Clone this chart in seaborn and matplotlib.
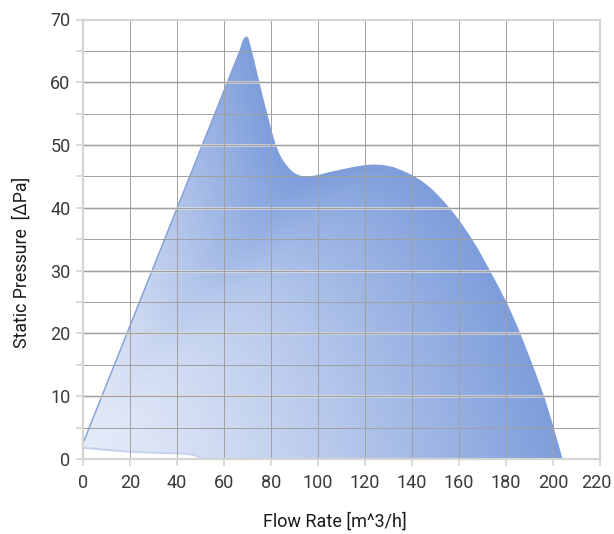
import numpy as np
import pandas as pd
import matplotlib
matplotlib.use("Agg")
import matplotlib.pyplot as plt
import matplotlib.transforms as mtransforms
from matplotlib.patches import Polygon
import seaborn as sns

# Fan characteristic at maximum speed (outer envelope)
flow_max = [0.0, 67.0, 68.0, 68.8, 69.5, 70.1, 70.6, 71.2, 72.5, 74.0, 75.5,
            77.0, 78.5, 80.0, 81.5, 83.0, 84.5, 86.0, 88.0, 90.0, 92.5, 95.0,
            98.0, 101.0, 105.0, 110.0, 115.0, 120.0, 124.0, 128.0, 132.0,
            136.0, 140.0, 144.0, 148.0, 152.0, 156.0, 160.0, 164.0, 168.0,
            172.0, 176.0, 180.0, 184.0, 188.0, 192.0, 196.0, 200.0, 203.8]
pressure_max = [2.5, 65.2, 66.4, 67.0, 67.2, 67.0, 66.4, 65.5, 63.6, 61.2, 58.9,
                56.6, 54.4, 52.2, 50.3, 48.8, 47.7, 46.9, 46.0, 45.4, 45.0, 44.9,
                45.0, 45.2, 45.6, 46.0, 46.4, 46.7, 46.8, 46.7, 46.4,
                45.8, 45.1, 44.2, 43.0, 41.5, 39.8, 37.9, 35.7, 33.3,
                30.6, 27.8, 24.9, 21.6, 17.9, 14.0, 9.9, 5.0, 0.0]

# Fan characteristic at minimum speed
flow_min = [0.0, 10.0, 20.0, 30.0, 40.0, 45.0, 48.0, 50.0, 52.0]
pressure_min = [1.8, 1.45, 1.15, 1.0, 0.9, 0.8, 0.55, 0.2, 0.0]

x_ticks = [0, 20, 40, 60, 80, 100, 120, 140, 160, 180, 200, 220]
y_ticks = [0, 10, 20, 30, 40, 50, 60, 70]
x_label = "Flow Rate [m^3/h]"
y_label = "Static Pressure  [ΔPa]"

sns.set_theme(style="white")
plt.rcParams["font.family"] = ["Roboto", "DejaVu Sans"]

W, H = 614, 534
fig = plt.figure(figsize=(W / 100, H / 100), dpi=100)
ax = fig.add_axes([83 / W, 75 / H, 517 / W, 439.5 / H])
ax.set_xlim(0, 220)
ax.set_ylim(0, 70)

# Operating region: outer curve, x-axis, then minimum-speed curve back
poly_x = flow_max + flow_min[::-1]
poly_y = pressure_max + pressure_min[::-1]
region = Polygon(np.column_stack([poly_x, poly_y]), closed=True,
                 facecolor="none", edgecolor="none", transform=ax.transData)
ax.add_patch(region)

# Shade by relative position between the start point and the outer curve
fx = np.asarray(flow_max)
fy = np.asarray(pressure_max)
ox, oy = fx[0], fy[0]
ipk = int(np.argmax(fy))
ang = np.arctan2(fy[ipk - 2:] - oy, fx[ipk - 2:] - ox)
rad = np.hypot(fy[ipk - 2:] - oy, fx[ipk - 2:] - ox)
ang = np.minimum.accumulate(ang)
order = np.argsort(ang)
ang_s, rad_s = ang[order], rad[order]

gx = np.linspace(0, 220, 1320)
gy = np.linspace(0, 70, 840)
GX, GY = np.meshgrid(gx, gy)
pa = np.arctan2(GY - oy, GX - ox)
pr = np.hypot(GY - oy, GX - ox)
r_out = np.interp(pa, ang_s, rad_s, left=rad_s[0], right=rad_s[-1])
t = np.clip(pr / r_out, 0, 1) ** 1.3
light = np.array([228, 234, 248]) / 255
dark = np.array([125, 157, 219]) / 255
rgb = light[None, None, :] + (dark - light)[None, None, :] * t[..., None]
im = ax.imshow(rgb, extent=(0, 220, 0, 70), origin="lower", aspect="auto",
               interpolation="bilinear", zorder=1)
im.set_clip_path(region)

# Curve outlines
curves = pd.DataFrame({"flow": flow_max, "pressure": pressure_max})
sns.lineplot(data=curves, x="flow", y="pressure", sort=False, estimator=None,
             color="#7f9edb", lw=1.0, ax=ax, zorder=2)
low = pd.DataFrame({"flow": flow_min, "pressure": pressure_min})
sns.lineplot(data=low, x="flow", y="pressure", sort=False, estimator=None,
             color="#c6d2ef", lw=1.5, ax=ax, zorder=2)

# Grid
for yv in y_ticks[1:-1]:
    ax.axhline(yv, color="#dadada", lw=1.8, zorder=3)
for yv in np.arange(5, 70, 5):
    ax.axhline(yv, color="#a0a0a0", lw=0.7, zorder=3.1)
for xv in x_ticks[1:-1]:
    ax.axvline(xv, color="#a0a0a0", lw=0.7, zorder=3.1)

for side in ["left", "bottom", "top", "right"]:
    ax.spines[side].set_visible(True)
    ax.spines[side].set_color("#d4d4d4")
    ax.spines[side].set_linewidth(1.6)
    ax.spines[side].set_zorder(4)

ax.set_xticks(x_ticks)
ax.set_yticks(y_ticks)
ax.set_yticks(np.arange(5, 70, 10), minor=True)
ax.tick_params(axis="both", which="both", length=5, width=1.2, color="#d4d4d4",
               labelsize=13, labelcolor="#3a3a3a")
ax.tick_params(axis="x", which="major", bottom=True, pad=6)
ax.tick_params(axis="y", which="both", left=True, pad=4)
# keep the last flow label inside the canvas
last = ax.get_xticklabels()[-1]
last.set_transform(last.get_transform() +
                   mtransforms.ScaledTranslation(-4 / 100, 0, fig.dpi_scale_trans))
ax.set_xlabel("")
ax.set_ylabel("")

fig.text(335 / W, 1 - 522 / H, x_label, ha="center", va="center",
         fontsize=13, color="#1a1a1a")
fig.text(22 / W, 1 - 262 / H, y_label, ha="center", va="center",
         rotation=90, fontsize=12.8, color="#1a1a1a")

fig.savefig("out.png", dpi=100)
